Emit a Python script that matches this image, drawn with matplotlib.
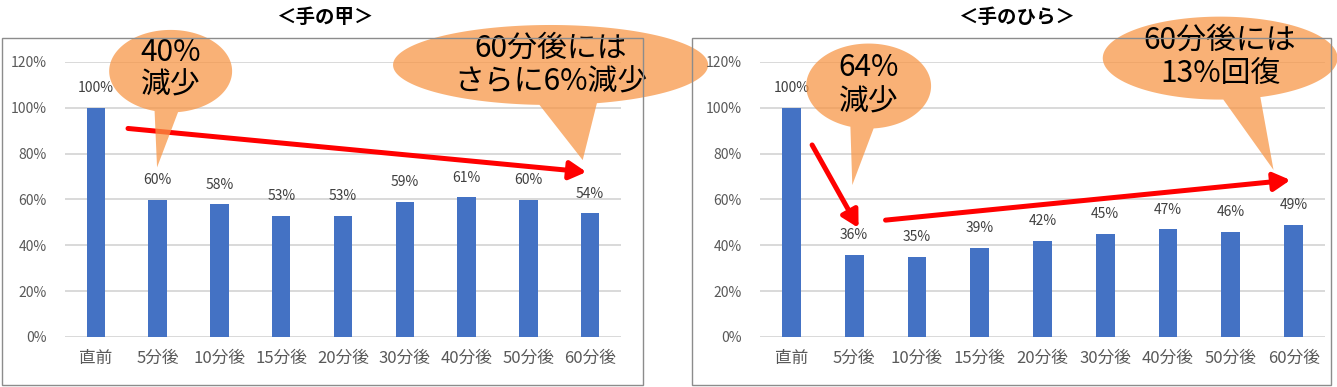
import numpy as np
import matplotlib
matplotlib.use("Agg")
import matplotlib.pyplot as plt
from matplotlib.patches import Rectangle, Polygon
from matplotlib.ticker import FuncFormatter

plt.rcParams['font.family'] = ['Noto Sans CJK JP', 'DejaVu Sans']

# データ
categories = ["直前", "5分後", "10分後", "15分後", "20分後", "30分後", "40分後", "50分後", "60分後"]
back_values = [1.00, 0.60, 0.58, 0.53, 0.53, 0.59, 0.61, 0.60, 0.54]   # 手の甲
palm_values = [1.00, 0.36, 0.35, 0.39, 0.42, 0.45, 0.47, 0.46, 0.49]   # 手のひら
titles = ["＜手の甲＞", "＜手のひら＞"]

bar_color = "#4472C4"
callout_color = "#F79646"
W, H = 1337, 387

fig = plt.figure(figsize=(W / 100, H / 100), dpi=100)

# 外枠
for x0, x1 in [(2, 643), (692, 1331)]:
    fig.add_artist(Rectangle((x0 / W, 2 / H), (x1 - x0) / W, 347 / H,
                             transform=fig.transFigure, fill=False,
                             edgecolor="#8C8C8C", lw=1.0))

ax1 = fig.add_axes([65 / W, 50 / H, 556 / W, 275 / H])
ax2 = fig.add_axes([760 / W, 50 / H, 565 / W, 275 / H])


def draw_bars(ax, values):
    x = np.arange(len(categories))
    bars = ax.bar(x, values, width=0.3, color=bar_color, zorder=2)
    for b, v in zip(bars, values):
        ax.annotate(f"{v:.0%}", (b.get_x() + b.get_width() / 2, v),
                    xytext=(0, 9), textcoords="offset points",
                    ha="center", va="bottom", fontsize=10, color="#404040")
    ax.set_xlim(-0.5, len(categories) - 0.5)
    ax.set_ylim(0, 1.2)
    ax.set_yticks(np.arange(0, 1.21, 0.2))
    ax.yaxis.set_major_formatter(FuncFormatter(lambda v, p: f"{v:.0%}"))
    ax.set_xticks(x)
    ax.set_xticklabels(categories)
    ax.tick_params(axis="y", length=0, pad=13, labelsize=10, labelcolor="#595959")
    ax.tick_params(axis="x", length=0, pad=9, labelsize=12, labelcolor="#595959")
    ax.grid(axis="y", color="#D9D9D9", lw=1.4, zorder=0)
    ax.set_axisbelow(True)
    for s in ax.spines.values():
        s.set_visible(False)
    ax.set_facecolor("none")


def callout(ax, cx, cy, w, h, base_l, base_r, tip, lines, line_ys, fs=21.5):
    a, b = w / 2, h / 2
    tl = -np.arccos(np.clip((base_l - cx) / a, -1, 1))
    tr = -np.arccos(np.clip((base_r - cx) / a, -1, 1))
    t = np.linspace(tr, tl + 2 * np.pi, 240)
    pts = np.column_stack([cx + a * np.cos(t), cy + b * np.sin(t)])
    pts = np.vstack([pts, tip])
    ax.add_patch(Polygon(pts, closed=True, facecolor=callout_color, alpha=0.74,
                         edgecolor="none", zorder=5, clip_on=False))
    for txt, yy in zip(lines, line_ys):
        ax.text(cx, yy, txt, ha="center", va="center", fontsize=fs,
                color="black", zorder=6, clip_on=False)


def arrow(ax, start, end):
    ax.annotate("", xy=end, xytext=start,
                arrowprops=dict(arrowstyle="-|>,head_length=1.0,head_width=0.55",
                                color="#FF0000", lw=3.6, shrinkA=0, shrinkB=0),
                zorder=4, annotation_clip=False)


draw_bars(ax1, back_values)
draw_bars(ax2, palm_values)

# 手の甲
arrow(ax1, (0.52, 0.91), (7.94, 0.72))
callout(ax1, 1.21, 1.16, 1.99, 0.36, 0.95, 1.33, (0.99, 0.74),
        ["40%", "減少"], [1.243, 1.10])
callout(ax1, 7.36, 1.187, 5.10, 0.349, 7.18, 8.11, (7.88, 0.772),
        ["60分後には", "さらに6%減少"], [1.261, 1.113])

# 手のひら
arrow(ax2, (0.33, 0.838), (1.07, 0.476))
arrow(ax2, (1.50, 0.51), (7.95, 0.685))
callout(ax2, 1.23, 1.095, 1.99, 0.371, 0.94, 1.31, (0.97, 0.663),
        ["64%", "減少"], [1.174, 1.025])
callout(ax2, 6.83, 1.217, 3.74, 0.362, 6.88, 7.47, (7.68, 0.729),
        ["60分後には", "13%回復"], [1.296, 1.152])

fig.text(325 / W, 1 - 17 / H, titles[0], ha="center", va="center",
         fontsize=14, fontweight="bold")
fig.text(1017 / W, 1 - 17 / H, titles[1], ha="center", va="center",
         fontsize=14, fontweight="bold")

fig.savefig("out.png", dpi=100)
